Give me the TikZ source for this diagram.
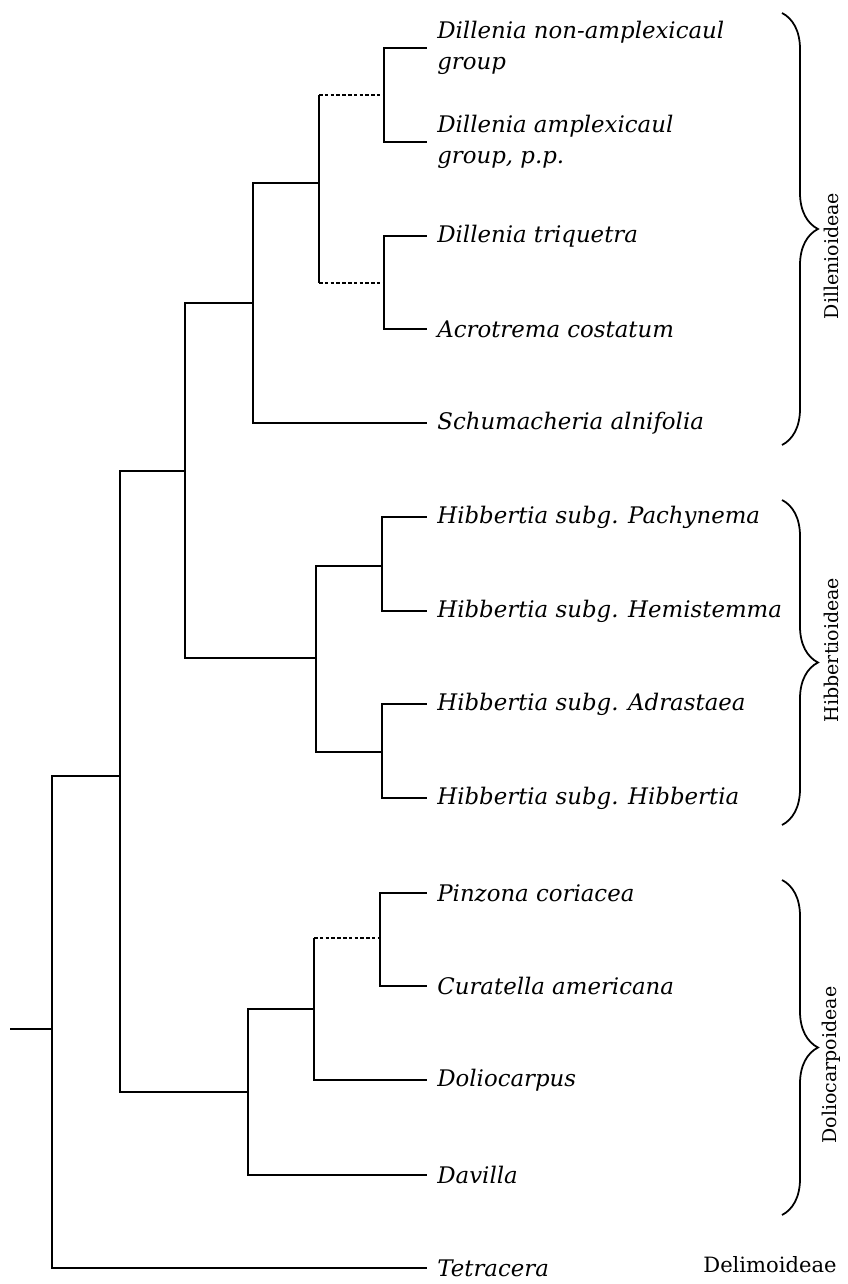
\documentclass[tikz,border=0pt]{standalone}
\usepackage{fontspec}
\setmainfont{DejaVu Serif}
\usetikzlibrary{decorations.pathreplacing}

\begin{document}
\begin{tikzpicture}[x=0.02cm,y=-0.02cm,
  branch/.style={line width=1pt,draw=black},
  weak/.style={branch,dash pattern=on 2pt off 1.3pt},
  tip/.style={branch,shorten >=0.2cm},
  taxon/.style={anchor=west,inner sep=0pt,align=left,
    font=\fontsize{13}{18}\selectfont\itshape},
  clade/.style={inner sep=0pt,font=\fontsize{10.8}{12}\selectfont},
  bracket/.style={line width=1pt,decorate,decoration={brace,amplitude=0.72cm}}]
\useasboundingbox (0,0) rectangle (848,1284);

% taxa
\node[taxon] (dnon) at (437,48) {Dillenia non-amplexicaul\\group};
\node[taxon] (damp) at (437,142) {Dillenia amplexicaul\\group, p.p.};
\node[taxon] (triq) at (437,236) {Dillenia triquetra};
\node[taxon] (acro) at (437,329) {Acrotrema costatum};
\node[taxon] (schu) at (437,423) {Schumacheria alnifolia};
\node[taxon] (pach) at (437,517) {Hibbertia subg. Pachynema};
\node[taxon] (hemi) at (437,611) {Hibbertia subg. Hemistemma};
\node[taxon] (adra) at (437,704) {Hibbertia subg. Adrastaea};
\node[taxon] (hibb) at (437,798) {Hibbertia subg. Hibbertia};
\node[taxon] (pinz) at (437,893) {Pinzona coriacea};
\node[taxon] (cura) at (437,986) {Curatella americana};
\node[taxon] (dolio) at (437,1080) {Doliocarpus};
\node[taxon] (davi) at (437,1175) {Davilla};
\node[taxon] (tetra) at (437,1268) {Tetracera};

% inner nodes
\coordinate (root) at (10,1029);
\coordinate (n0) at (52,1029);
\coordinate (n1) at (120,776);
\coordinate (n2) at (185,471);
\coordinate (n3) at (253,303);
\coordinate (n4) at (319,183);
\coordinate (n5) at (384,95);
\coordinate (n6) at (384,283);
\coordinate (n7) at (316,658);
\coordinate (n8) at (382,566);
\coordinate (n9) at (382,752);
\coordinate (n10) at (248,1092);
\coordinate (n11) at (314,1009);
\coordinate (n12) at (380,938);

\draw[branch] (root) -- (n0);
\draw[branch] (n0) |- (n1);
\draw[tip] (n0) |- (tetra.west);
\draw[branch] (n1) |- (n2);
\draw[branch] (n1) |- (n10);
\draw[branch] (n2) |- (n3);
\draw[branch] (n2) |- (n7);
\draw[branch] (n3) |- (n4);
\draw[tip] (n3) |- (schu.west);
\draw[branch] (n4|-n5) -- (n4|-n6);
\draw[weak] (n4|-n5) -- (n5);
\draw[weak] (n4|-n6) -- (n6);
\draw[tip] (n5) |- (dnon.west);
\draw[tip] (n5) |- (damp.west);
\draw[tip] (n6) |- (triq.west);
\draw[tip] (n6) |- (acro.west);
\draw[branch] (n7) |- (n8);
\draw[branch] (n7) |- (n9);
\draw[tip] (n8) |- (pach.west);
\draw[tip] (n8) |- (hemi.west);
\draw[tip] (n9) |- (adra.west);
\draw[tip] (n9) |- (hibb.west);
\draw[branch] (n10) |- (n11);
\draw[tip] (n10) |- (davi.west);
\draw[branch] (n11) -- (n11|-n12);
\draw[weak] (n11|-n12) -- (n12);
\draw[tip] (n11) |- (dolio.west);
\draw[tip] (n12) |- (pinz.west);
\draw[tip] (n12) |- (cura.west);

% subfamilies
\coordinate (dilltop) at (782,13);
\coordinate (dillbot) at (782,445);
\coordinate (hibbtop) at (782,500);
\coordinate (hibbbot) at (782,825);
\coordinate (dolitop) at (782,880);
\coordinate (dolibot) at (782,1215);
\draw[bracket] (dilltop) -- (dillbot);
\draw[bracket] (hibbtop) -- (hibbbot);
\draw[bracket] (dolitop) -- (dolibot);
\node[clade,rotate=90] (dill) at (831,256) {Dillenioideae};
\node[clade,rotate=90] (hibbsf) at (831,650) {Hibbertioideae};
\node[clade,rotate=90] (dolisf) at (831,1065) {Doliocarpoideae};
\node[clade,font=\fontsize{12}{14}\selectfont] (deli) at (770,1265) {Delimoideae};
\end{tikzpicture}
\end{document}
